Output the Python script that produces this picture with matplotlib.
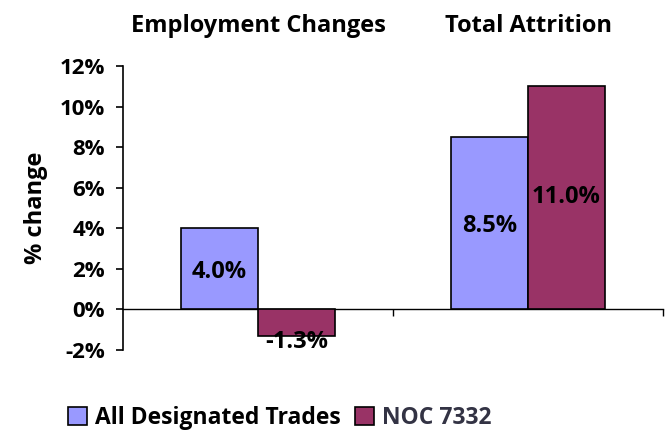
import numpy as np
import matplotlib.pyplot as plt

plt.rcParams['font.family'] = ['Open Sans', 'DejaVu Sans']
plt.rcParams['font.weight'] = 'bold'

categories = ['Employment Changes', 'Total Attrition']
series_names = ['All Designated Trades', 'NOC 7332']
all_trades = [4.0, 8.5]
noc_7332 = [-1.3, 11.0]
colors = ['#9999FF', '#993366']

fig = plt.figure(figsize=(6.7, 4.37), dpi=100)
ax = fig.add_axes([0.1836, 0.199, 0.806, 0.650])

x = np.arange(len(categories))
w = 0.285
b1 = ax.bar(x - w / 2, all_trades, w, color=colors[0], edgecolor='black', linewidth=1.2,
            label=series_names[0], zorder=3)
b2 = ax.bar(x + w / 2, noc_7332, w, color=colors[1], edgecolor='black', linewidth=1.2,
            label=series_names[1], zorder=3)

fs = 16
# value labels
for xi, v in zip(x - w / 2, all_trades):
    ax.text(xi, v / 2 - 0.15, f'{v:.1f}%', ha='center', va='center', fontsize=17, fontweight='bold', zorder=4)
for xi, v in zip(x + w / 2, noc_7332):
    y = v / 2 + 0.05 if v > 0 else v - 0.3
    ax.text(xi, y, f'{v:.1f}%', ha='center', va='center', fontsize=17, fontweight='bold', zorder=4)

ax.set_ylim(-2, 12)
ax.set_xlim(-0.5, 1.5)
ax.set_yticks(range(-2, 13, 2))
ax.set_yticklabels([f'{t}%' for t in range(-2, 13, 2)], fontsize=fs, fontweight='bold')
ax.tick_params(axis='y', direction='out', length=5, width=1.2, pad=8)
ax.set_ylabel('% change', fontsize=17, fontweight='bold', labelpad=8)

# x axis at zero, ticks at category boundaries
ax.spines['top'].set_visible(False)
ax.spines['right'].set_visible(False)
ax.spines['bottom'].set_position(('data', 0))
ax.spines['left'].set_linewidth(1.2)
ax.spines['bottom'].set_linewidth(1.0)
ax.set_xticks([0.5, 1.5])
ax.set_xticklabels([])
ax.tick_params(axis='x', direction='out', length=5, width=1.0)

# category labels on top
for xi, c in zip(x, categories):
    ax.text(xi, 1.10, c, transform=ax.get_xaxis_transform(), ha='center', va='bottom',
            fontsize=17, fontweight='bold')

leg = fig.legend(handles=[b1, b2], labels=series_names, loc='center left',
                 bbox_to_anchor=(0.101, 0.043), ncol=2, frameon=False,
                 borderpad=0, borderaxespad=0,
                 handlelength=0.85, handleheight=0.85, handletextpad=0.35, columnspacing=0.6,
                 prop={'weight': 'bold', 'size': 16.5})
leg.get_texts()[1].set_color('#333344')

fig.savefig('out.png', dpi=100)
